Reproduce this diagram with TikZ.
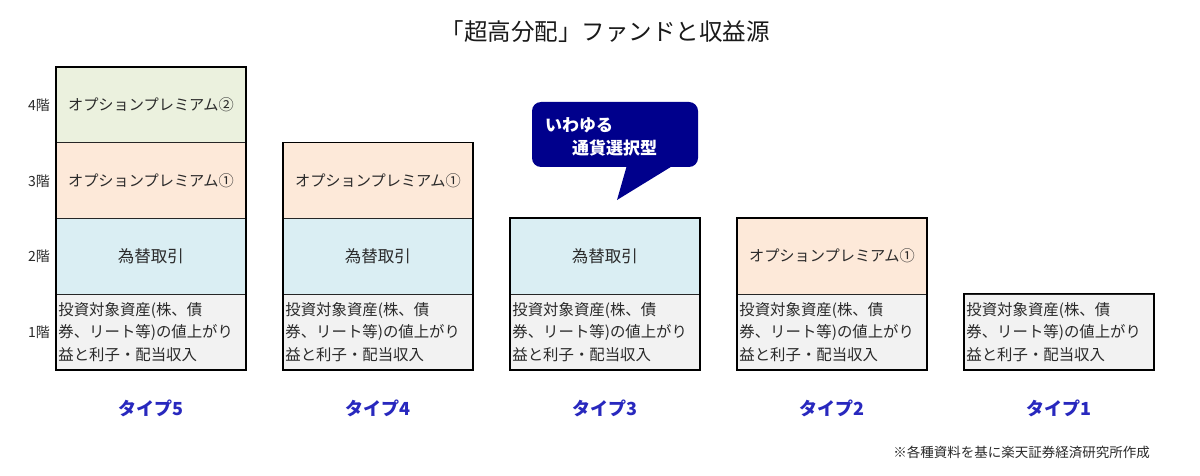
\documentclass[tikz,border=0pt]{standalone}
\usepackage{fontspec}
\setmainfont{Noto Sans CJK JP}
\definecolor{fgreen}{HTML}{EBF1DE}
\definecolor{fpeach}{HTML}{FDE9D9}
\definecolor{fblue}{HTML}{DAEEF3}
\definecolor{fgray}{HTML}{F2F2F2}
\definecolor{navy}{RGB}{0,0,140}
\definecolor{typeblue}{RGB}{40,40,190}
\definecolor{txt}{HTML}{2A2A2A}
\begin{document}
\begin{tikzpicture}[x=1pt,y=-1pt,
  floor/.style={draw=black!85, line width=0.8pt, minimum width=189pt, minimum height=75.5pt,
    inner sep=0pt, anchor=north west, font=\fontsize{15.2}{17}\selectfont, text=txt},
  f4/.style={floor, fill=fgreen},
  f3/.style={floor, fill=fpeach},
  f2/.style={floor, fill=fblue, font=\fontsize{16.5}{18}\selectfont},
  f1/.style={floor, fill=fgray, align=left, text width=185pt, inner xsep=2pt,
    font=\fontsize{15.4}{22.5}\selectfont},
  outer/.style={draw=black, line width=1.6pt},
  flabel/.style={anchor=east, font=\fontsize{14}{16}\selectfont, text=txt, inner sep=0pt},
  tlabel/.style={font=\bfseries\fontsize{18}{20}\selectfont, text=typeblue, inner sep=0pt},
  bubbletext/.style={font=\bfseries\fontsize{17}{19}\selectfont, text=white, inner sep=0pt}]
\useasboundingbox (0,0) rectangle (1200,476);
\fill[white] (0,0) rectangle (1200,476);

% title
\node[font=\fontsize{23.5}{26}\selectfont, text=black!90, inner sep=0pt] (title) at (605,32) {「超高分配」ファンドと収益源};

% floor labels
\node[flabel] (L4) at (50,105) {4階};
\node[flabel] (L3) at (50,181) {3階};
\node[flabel] (L2) at (50,256) {2階};
\node[flabel] (L1) at (50,332) {1階};

\newcommand{\basetext}{投資対象資産(株、債\\券、リート等)の値上がり\\益と利子・配当収入}

% type 5
\node[f4] (t5a) at (56,67) {オプションプレミアム②};
\node[f3] (t5b) at (56,142.5) {オプションプレミアム①};
\node[f2] (t5c) at (56,218) {為替取引};
\node[f1] (t5d) at (56,293.5) {\basetext};
\draw[outer] (t5a.north west) rectangle (t5d.south east);

% type 4
\node[f3] (t4b) at (283,142.5) {オプションプレミアム①};
\node[f2] (t4c) at (283,218) {為替取引};
\node[f1] (t4d) at (283,293.5) {\basetext};
\draw[outer] (t4b.north west) rectangle (t4d.south east);

% type 3
\node[f2] (t3c) at (510,218) {為替取引};
\node[f1] (t3d) at (510,293.5) {\basetext};
\draw[outer] (t3c.north west) rectangle (t3d.south east);

% type 2
\node[f3] (t2c) at (737,218) {オプションプレミアム①};
\node[f1] (t2d) at (737,293.5) {\basetext};
\draw[outer] (t2c.north west) rectangle (t2d.south east);

% type 1
\node[f1] (t1d) at (964,293.5) {\basetext};
\draw[outer] (t1d.north west) rectangle (t1d.south east);

% type labels
\node[tlabel] (T5) at (150.5,408) {タイプ5};
\node[tlabel] (T4) at (377.5,408) {タイプ4};
\node[tlabel] (T3) at (604.5,408) {タイプ3};
\node[tlabel] (T2) at (831.5,408) {タイプ2};
\node[tlabel] (T1) at (1058.5,408) {タイプ1};

% callout
\fill[navy, rounded corners=9pt] (532,102) rectangle (698,167);
\coordinate (tip) at (617,200);
\fill[navy] (627,165) -- (tip) -- (674,165) -- cycle;
\node[bubbletext, anchor=west] (b1) at (545,125) {いわゆる};
\node[bubbletext, anchor=west] (b2) at (572,148) {通貨選択型};

% footnote
\node[anchor=east, font=\fontsize{13.5}{15}\selectfont, text=txt, inner sep=0pt] (note) at (1150,452) {※各種資料を基に楽天証券経済研究所作成};
\end{tikzpicture}
\end{document}
